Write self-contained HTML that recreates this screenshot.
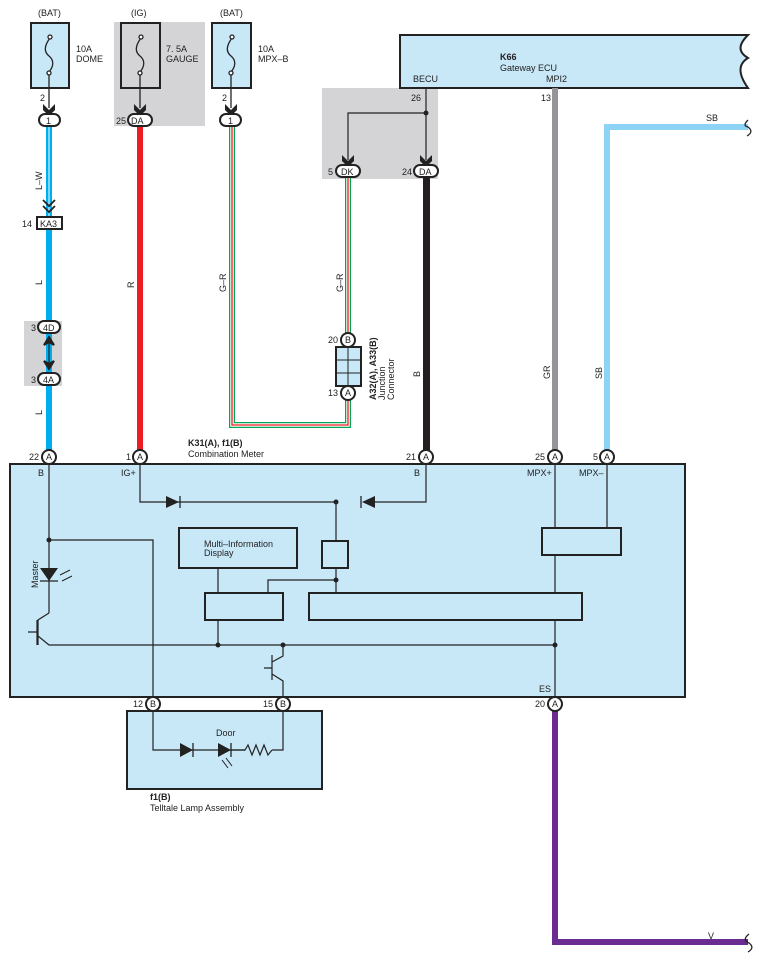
<!DOCTYPE html>
<html><head><meta charset="utf-8"><style>
html,body{margin:0;padding:0;background:#fff}
svg{display:block;font-family:"Liberation Sans",sans-serif}
text{font-size:9px;fill:#222}
.b{font-weight:bold}
</style></head><body>
<svg width="763" height="966" viewBox="0 0 763 966">
<defs>
<marker id="ah" markerWidth="10" markerHeight="10" refX="5" refY="8" orient="auto" markerUnits="userSpaceOnUse"></marker>
</defs>
<!-- gray backgrounds -->
<rect x="114" y="22" width="91" height="104" fill="#d4d4d6"/>
<rect x="322" y="88" width="116" height="91" fill="#d4d4d6"/>
<rect x="24" y="321" width="38" height="65" fill="#d4d4d6"/>

<!-- fuses -->
<g stroke="#222" stroke-width="2">
<rect x="31" y="23" width="38" height="65" fill="#c8e8f8"/>
<rect x="121" y="23" width="39" height="65" fill="#d4d4d6"/>
<rect x="212" y="23" width="39" height="65" fill="#c8e8f8"/>
</g>
<g fill="none" stroke="#222" stroke-width="1.3">
<path d="M50 38 C44 46,44 52,49 56 C54 60,54 66,49 72"/>
<path d="M141 38 C135 46,135 52,140 56 C145 60,145 66,140 72"/>
<path d="M232 38 C226 46,226 52,231 56 C236 60,236 66,231 72"/>
<circle cx="50" cy="37" r="2" fill="#fff"/><circle cx="49" cy="73" r="2" fill="#fff"/>
<circle cx="141" cy="37" r="2" fill="#fff"/><circle cx="140" cy="73" r="2" fill="#fff"/>
<circle cx="232" cy="37" r="2" fill="#fff"/><circle cx="231" cy="73" r="2" fill="#fff"/>
<path d="M49 75V108M140 75V108M231 75V108"/>
</g>
<text x="38" y="16">(BAT)</text><text x="131" y="16">(IG)</text><text x="220" y="16">(BAT)</text>
<text x="76" y="52">10A</text><text x="76" y="62">DOME</text>
<text x="166" y="52">7. 5A</text><text x="166" y="62">GAUGE</text>
<text x="258" y="52">10A</text><text x="258" y="62">MPX–B</text>

<!-- ECU -->
<path d="M400 35H748 C738 45,738 52,748 58 C738 64,738 74,748 88 H400Z" fill="#c8e8f8" stroke="#222" stroke-width="2"/>
<text x="500" y="60" class="b">K66</text><text x="500" y="71">Gateway ECU</text>
<text x="413" y="82">BECU</text><text x="546" y="82">MPI2</text>
<text x="411" y="101">26</text><text x="541" y="101">13</text>

<!-- wires -->
<!-- L-W -->
<rect x="46" y="126" width="6" height="90" fill="#00aeef"/><rect x="48.5" y="126" width="1" height="90" fill="#fff"/>
<rect x="46" y="229" width="6" height="221" fill="#00aeef"/>
<rect x="137" y="126" width="6" height="324" fill="#ed1c24"/>
<!-- G-R -->
<path d="M232 126V425H348V398" fill="none" stroke="#00a651" stroke-width="6"/>
<path d="M232 126V425H348V398" fill="none" stroke="#fff" stroke-width="3.5"/>
<path d="M232 126V425H348V398" fill="none" stroke="#ed1c24" stroke-width="1.3"/>
<path d="M348 178V336" fill="none" stroke="#00a651" stroke-width="6"/>
<path d="M348 178V336" fill="none" stroke="#fff" stroke-width="3.5"/>
<path d="M348 178V336" fill="none" stroke="#ed1c24" stroke-width="1.3"/>
<rect x="423" y="178" width="7" height="272" fill="#231f20"/>
<rect x="552" y="88" width="6" height="362" fill="#939598"/>
<path d="M607 450V127H748" fill="none" stroke="#8dd3f5" stroke-width="6"/>
<path d="M748 120 C744 124,744 126,748 127 C752 130,752 133,747 136" fill="none" stroke="#222" stroke-width="1.3"/>
<text x="706" y="121">SB</text>
<path d="M555 711V942H748" fill="none" stroke="#6b2c91" stroke-width="6"/>
<path d="M749 934 C744 938,744 941,749 943 C753 946,753 949,748 952" fill="none" stroke="#222" stroke-width="1.3"/>
<text x="708" y="939">V</text>

<!-- becu splits -->
<path d="M426 88V160M426 113H348V160" fill="none" stroke="#222" stroke-width="1.2"/>
<circle cx="426" cy="113" r="2.5" fill="#222"/>

<!-- arrowheads (downward V) -->
<g fill="#222">
<path d="M43 104L49 110L55 104L55 110L49 116L43 110Z"/>
<path d="M134 104L140 110L146 104L146 110L140 116L134 110Z"/>
<path d="M225 104L231 110L237 104L237 110L231 116L225 110Z"/>
<path d="M342 155L348 161L354 155L354 161L348 167L342 161Z"/>
<path d="M420 155L426 161L432 155L432 161L426 167L420 161Z"/>
</g>
<path d="M43 200L49 206L55 200M43 206L49 212L55 206" fill="none" stroke="#222" stroke-width="1.8"/>
<!-- connectors top -->
<g stroke="#222" stroke-width="2" fill="#fff">
<rect x="39" y="114" width="21" height="12" rx="6"/>
<rect x="128" y="114" width="24" height="12" rx="6"/>
<rect x="220" y="114" width="21" height="12" rx="6"/>
<rect x="336" y="165" width="24" height="12" rx="6"/>
<rect x="414" y="165" width="24" height="12" rx="6"/>
<rect x="37" y="217" width="25" height="12" rx="0"/>
<rect x="38" y="321" width="22" height="12" rx="6"/>
<rect x="38" y="373" width="22" height="12" rx="6"/>
</g>
<text x="46" y="124">1</text><text x="131" y="124">DA</text><text x="228" y="124">1</text>
<text x="341" y="175">DK</text><text x="419" y="175">DA</text>
<text x="40" y="227">KA3</text><text x="43" y="331">4D</text><text x="43" y="383">4A</text>
<text x="40" y="101">2</text><text x="222" y="101">2</text><text x="116" y="124">25</text>
<text x="328" y="175">5</text><text x="402" y="175">24</text>
<text x="22" y="227">14</text><text x="31" y="331">3</text><text x="31" y="383">3</text>
<path d="M49 340V366" stroke="#222" stroke-width="1.2"/>
<path d="M44 345L49 337L54 345L49 342Z M44 361L49 369L54 361L49 364Z" fill="#222" stroke="#222" stroke-width="2"/>

<!-- wire labels rotated -->
<g>
<text transform="translate(42,190) rotate(-90)">L–W</text>
<text transform="translate(42,285) rotate(-90)">L</text>
<text transform="translate(42,415) rotate(-90)">L</text>
<text transform="translate(134,288) rotate(-90)">R</text>
<text transform="translate(226,292) rotate(-90)">G–R</text>
<text transform="translate(343,292) rotate(-90)">G–R</text>
<text transform="translate(420,377) rotate(-90)">B</text>
<text transform="translate(550,379) rotate(-90)">GR</text>
<text transform="translate(602,379) rotate(-90)">SB</text>
<text transform="translate(376,400) rotate(-90)" class="b">A32(A), A33(B)</text>
<text transform="translate(385,400) rotate(-90)">Junction</text>
<text transform="translate(394,400) rotate(-90)">Connector</text>
</g>
<!-- junction connector -->
<rect x="336" y="347" width="25" height="39" fill="#c8e8f8" stroke="#222" stroke-width="2"/>
<path d="M348 347V386M336 360H361M336 373H361" stroke="#222" stroke-width="1"/>
<text x="328" y="343">20</text><text x="328" y="396">13</text>

<!-- meter box -->
<rect x="10" y="464" width="675" height="233" fill="#c8e8f8" stroke="#222" stroke-width="2"/>
<text x="188" y="446" class="b">K31(A), f1(B)</text><text x="188" y="457">Combination Meter</text>
<g fill="none" stroke="#222" stroke-width="1.2">
<path d="M140 464V502H336M370 502H426V464"/>
<path d="M336 502V541M336 568V593M268 593V580H336"/>
<path d="M218 568V593M218 620V645"/>
<path d="M49 464V540M49 540H153V697"/>
<path d="M49 540V613M49 613L38 620V645M37 620V645M28 632H37"/>
<path d="M38 636L49 645H555"/>
<path d="M555 464V528M607 464V528M555 555V593M555 620V697"/>
<path d="M283 645V656L272 662M272 655V680M264 668H272M272 674L283 681V697"/>
</g>
<path d="M40 568H58L49 581Z" fill="#222"/><path d="M40 581H58" stroke="#222" stroke-width="1.3"/>
<path d="M60 575L70 570M62 581L72 576" stroke="#222" stroke-width="1"/>
<text transform="translate(38,588) rotate(-90)">Master</text>
<path d="M166 496V508L179 502Z" fill="#222"/><path d="M180 496V508" stroke="#222" stroke-width="1.3"/>
<path d="M375 496V508L362 502Z" fill="#222"/><path d="M361 496V508" stroke="#222" stroke-width="1.3"/>
<g fill="#222"><circle cx="336" cy="502" r="2.5"/><circle cx="336" cy="580" r="2.5"/><circle cx="49" cy="540" r="2.5"/><circle cx="218" cy="645" r="2.5"/><circle cx="283" cy="645" r="2.5"/><circle cx="555" cy="645" r="2.5"/></g>
<g fill="#c8e8f8" stroke="#222" stroke-width="2">
<rect x="179" y="528" width="118" height="40"/>
<rect x="322" y="541" width="26" height="27"/>
<rect x="205" y="593" width="78" height="27"/>
<rect x="309" y="593" width="273" height="27"/>
<rect x="542" y="528" width="79" height="27"/>
</g>
<text x="204" y="547">Multi–Information</text><text x="204" y="556">Display</text>
<text x="38" y="476">B</text><text x="121" y="476">IG+</text><text x="414" y="476">B</text>
<text x="527" y="476">MPX+</text><text x="579" y="476">MPX–</text>
<text x="539" y="692">ES</text>

<!-- telltale -->
<rect x="127" y="711" width="195" height="78" fill="#c8e8f8" stroke="#222" stroke-width="2"/>
<path d="M153 704V750H245M272 750H283V704" fill="none" stroke="#222" stroke-width="1.2"/>
<path d="M180 743V757L193 750Z" fill="#222"/><path d="M193 743V757" stroke="#222" stroke-width="1.3"/>
<path d="M218 743V757L231 750Z" fill="#222"/><path d="M231 743V757" stroke="#222" stroke-width="1.3"/>
<path d="M231 750L245 750L248 745L252 755L256 745L260 755L264 745L268 755L272 750" fill="none" stroke="#222" stroke-width="1.2"/>
<path d="M222 760L228 768M226 758L232 766" stroke="#222" stroke-width="1"/>
<text x="216" y="736">Door</text>
<text x="150" y="800" class="b">f1(B)</text><text x="150" y="811">Telltale Lamp Assembly</text>

<!-- circle connectors -->
<g stroke="#222" stroke-width="2" fill="#fff">
<circle cx="49" cy="457" r="7"/><circle cx="140" cy="457" r="7"/><circle cx="426" cy="457" r="7"/>
<circle cx="555" cy="457" r="7"/><circle cx="607" cy="457" r="7"/>
<circle cx="348" cy="340" r="7"/><circle cx="348" cy="393" r="7"/>
<circle cx="153" cy="704" r="7"/><circle cx="283" cy="704" r="7"/><circle cx="555" cy="704" r="7"/>
</g>
<g text-anchor="middle">
<text x="49" y="460">A</text><text x="140" y="460">A</text><text x="426" y="460">A</text><text x="555" y="460">A</text><text x="607" y="460">A</text>
<text x="348" y="343">B</text><text x="348" y="396">A</text>
<text x="153" y="707">B</text><text x="283" y="707">B</text><text x="555" y="707">A</text>
</g>
<text x="29" y="460">22</text><text x="126" y="460">1</text><text x="406" y="460">21</text><text x="535" y="460">25</text><text x="593" y="460">5</text>
<text x="133" y="707">12</text><text x="263" y="707">15</text><text x="535" y="707">20</text>
</svg>
</body></html>
